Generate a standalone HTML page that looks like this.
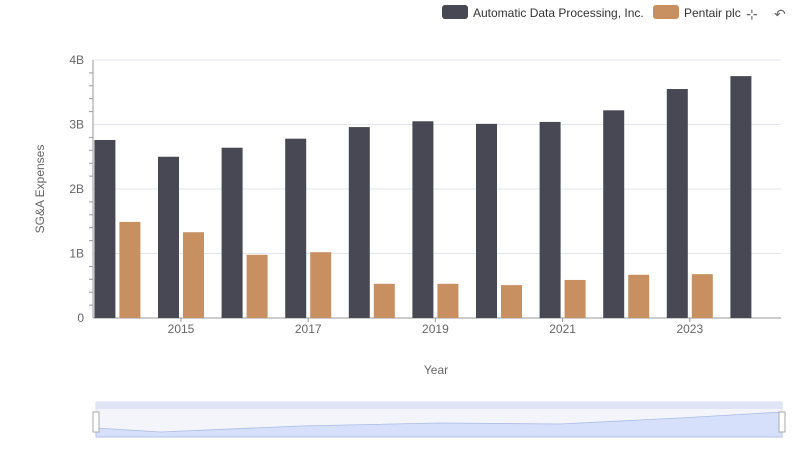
<!DOCTYPE html>
<html><head><meta charset="utf-8"><style>
body{margin:0;background:#fff;font-family:"Liberation Sans",sans-serif}
svg text{font-family:"Liberation Sans",sans-serif}
</style></head><body>
<svg id="c" width="800" height="461" xmlns="http://www.w3.org/2000/svg">
<g>
<rect x="442" y="5" width="26" height="14" rx="3" fill="#484855"/>
<text x="473" y="17" font-size="12" fill="#333">Automatic Data Processing, Inc.</text>
<rect x="653" y="5" width="26" height="14" rx="3" fill="#c89060"/>
<text x="684" y="17" font-size="12" fill="#333">Pentair plc</text>
<text x="746" y="19" font-size="14" fill="#666">⊹</text>
<text x="774" y="19" font-size="14" fill="#666">↶</text>
</g>
<text transform="translate(44,189) rotate(-90)" text-anchor="middle" font-size="12" fill="#666">SG&amp;A Expenses</text>
<text x="436" y="374" text-anchor="middle" font-size="12" fill="#666">Year</text>
<g id="grid"></g><g id="bars"></g><g id="xl"></g>
<g>
<rect x="96" y="402" width="686" height="35" fill="#f3f5fb" stroke="#d5dbe8"/>
<rect x="96" y="402" width="686" height="7" fill="#dfe5f5"/>
<path d="M96,428 L160,432 L300,426 L440,423 L560,424 L680,418 L782,412 L782,437 L96,437Z" fill="#d6e0fa" stroke="#aabbe6" stroke-width="0.8"/>
<rect x="93" y="412" width="6" height="20" fill="#fff" stroke="#aaa"/>
<rect x="779" y="412" width="6" height="20" fill="#fff" stroke="#aaa"/>
</g>
</svg>
<script>
const years=[2014,2015,2016,2017,2018,2019,2020,2021,2022,2023,2024];
const adp=[2.76,2.50,2.64,2.78,2.96,3.05,3.01,3.04,3.22,3.55,3.75];
const pentair=[1.49,1.33,0.98,1.02,0.53,0.53,0.51,0.59,0.67,0.68,null];
const yTicks=[0,1,2,3,4];
const yTickLabels=["0","1B","2B","3B","4B"];
const xLabelYears=[2015,2017,2019,2021,2023];
const NS="http://www.w3.org/2000/svg";
const y=v=>318-v*64.5;
const xc=i=>117.4+63.6*i;
function mk(t,a,p){const e=document.createElementNS(NS,t);for(const k in a)e.setAttribute(k,a[k]);p.appendChild(e);return e;}
const g=document.getElementById('grid');
yTicks.forEach((t,i)=>{
 const l=mk('line',{x1:93,x2:781,y1:y(t),y2:y(t),stroke:t===0?'#999':'#e3e6ee'},g);
 
 
 const tx=mk('text',{x:84,y:y(t)+4,'text-anchor':'end','font-size':12,fill:'#666'},g);
 tx.textContent=yTickLabels[i];
 
 
 if(i<yTicks.length-1)for(let m=1;m<5;m++){const mm=mk('line',{x1:89,x2:93,y1:y(t+m*0.2),y2:y(t+m*0.2),stroke:'#999'},g);
 
 }
});
mk('line',{x1:93,x2:93,y1:60,y2:318,stroke:'#999'},g);
const b=document.getElementById('bars');
years.forEach((yr,i)=>{
 const r=mk('rect',{x:xc(i)-23,y:y(adp[i]),width:21,height:318-y(adp[i]),fill:'#484855'},b);
 
 
 if(pentair[i]!=null){const p=mk('rect',{x:xc(i)+2,y:y(pentair[i]),width:21,height:318-y(pentair[i]),fill:'#c89060'},b);
 
 }
});
const xl=document.getElementById('xl');
xLabelYears.forEach(yr=>{const i=years.indexOf(yr);
 const t=mk('text',{x:xc(i),y:333,'text-anchor':'middle','font-size':12,fill:'#666'},xl);t.textContent=yr;
 
 
 const tk=mk('line',{x1:xc(i),x2:xc(i),y1:318,y2:322,stroke:'#999'},xl);
 
 });
</script>
</body></html>
